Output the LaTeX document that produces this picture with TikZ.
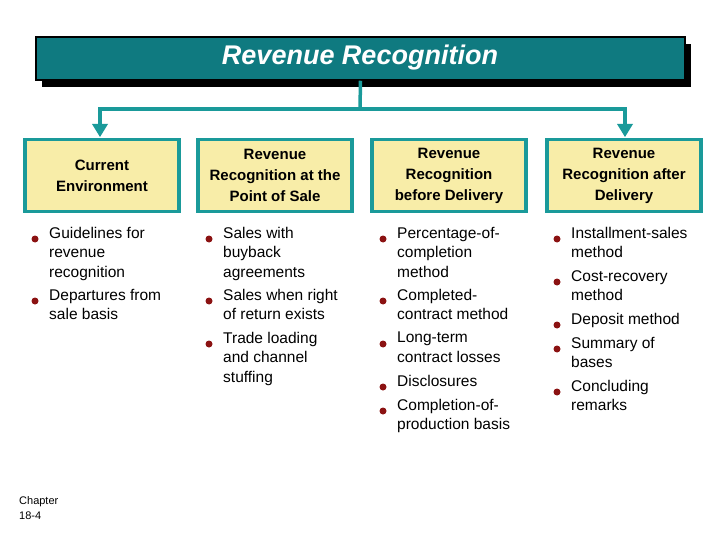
\documentclass[tikz,border=0pt]{standalone}
\usepackage{fontspec}
\setmainfont{Liberation Sans}
\begin{document}
\begin{tikzpicture}[x=1pt,y=-1pt,
  hdr/.style={draw=tealB,line width=3.5pt,fill=boxY,minimum width=154pt,minimum height=72pt,align=center,font=\fontsize{15}{21}\selectfont\bfseries,inner sep=0pt},
  itm/.style={anchor=north west,align=left,inner sep=0pt,font=\fontsize{15.5}{19.3}\selectfont},
  bul/.style={circle,fill=bulR,inner sep=0pt,minimum size=7pt},
  conn/.style={draw=tealB,line width=3.5pt},
  arr/.style={fill=tealB,draw=none}]
\definecolor{tealB}{HTML}{1A9A9A}
\definecolor{tealT}{HTML}{0F7A80}
\definecolor{boxY}{HTML}{F8EDA8}
\definecolor{bulR}{HTML}{8B1212}
\useasboundingbox (0,0) rectangle (720,540);
\fill[black] (42,44) rectangle (691,87);
\node[draw=black,line width=1.5pt,fill=tealT,minimum width=649pt,minimum height=43pt,inner sep=0pt] (title) at (360.5,58.5) {};
\node[text=white,font=\fontsize{27}{30}\selectfont\bfseries\itshape] (tt) at (360,58) {Revenue Recognition};
\node[hdr] (h1) at (102,175.5) {Current\\Environment};
\node[hdr] (h2) at (275,175.5) {Revenue\\Recognition at the\\Point of Sale};
\node[hdr] (h3) at (449,175.5) {Revenue\\Recognition\\before Delivery};
\node[hdr] (h4) at (624,175.5) {Revenue\\Recognition after\\Delivery};
\coordinate (c1) at (100,109);
\coordinate (c4) at (625,109);
\draw[conn] (title.south) -- (360,109);
\draw[conn,line cap=round] (100,124) -- (c1) -- (c4) -- (625,124);
\fill[tealB] (92,124) -- (108,124) -- (100,137) -- cycle;
\fill[tealB] (617,124) -- (633,124) -- (625,137) -- cycle;
% column 1
\foreach \x/\y/\t [count=\i] in {
 49/227/{Guidelines for\\revenue\\recognition},
 49/289/{Departures from\\sale basis},
 223/227/{Sales with\\buyback\\agreements},
 223/289/{Sales when right\\of return exists},
 223/332/{Trade loading\\and channel\\stuffing},
 397/227/{Percentage-of-\\completion\\method},
 397/289/{Completed-\\contract method},
 397/332/{Long-term\\contract losses},
 397/375/{Disclosures},
 397/399/{Completion-of-\\production basis},
 571/227/{Installment-sales\\method},
 571/270/{Cost-recovery\\method},
 571/313/{Deposit method},
 571/337/{Summary of\\bases},
 571/380/{Concluding\\remarks}}
{\node[bul] (b\i) at (\x-14,\y+12) {};
 \node[itm] (t\i) at (\x,\y) {\t};}
\node[anchor=north west,align=left,inner sep=0pt,font=\fontsize{11}{15}\selectfont] (ch) at (19,496) {Chapter\\18-4};
\end{tikzpicture}
\end{document}
